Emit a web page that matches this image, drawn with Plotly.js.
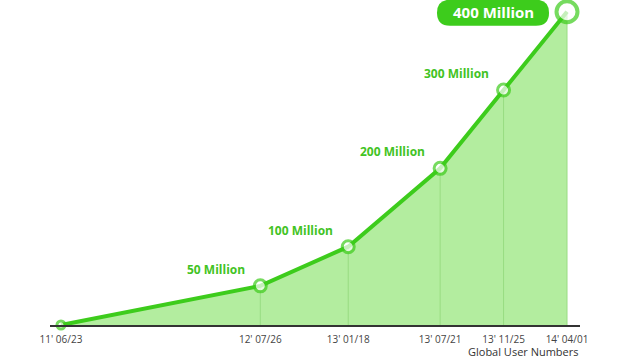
<!DOCTYPE html>
<html><head><meta charset="utf-8">
<script src="https://cdn.plot.ly/plotly-3.0.1.min.js"></script>
<style>html,body{margin:0;padding:0;background:#fff}#chart{width:640px;height:360px}</style>
</head><body><div id="chart"></div>
<script>
const dates = ['2011-06-23','2012-07-26','2013-01-18','2013-07-21','2013-11-25','2014-04-01'];
const tickLabels = ["11' 06/23","12' 07/26","13' 01/18","13' 07/21","13' 11/25","14' 04/01"];
const users = [0, 50, 100, 200, 300, 400]; // millions
const labels = ['', '50 Million', '100 Million', '200 Million', '300 Million', '400 Million'];

const GREEN = '#3dcc1c';
const FILL = '#b3ed9f';
const last = users.length - 1;

const fillTrace = {
  x: dates, y: users, type: 'scatter', mode: 'lines',
  fill: 'tozeroy', fillcolor: FILL, line: {width: 0, color: FILL},
  error_y: {type: 'data', symmetric: false, array: users.map(() => 0), arrayminus: users,
            color: '#98dc82', thickness: 1, width: 0},
  hoverinfo: 'skip'
};
const lineTrace = {
  x: dates, y: users, type: 'scatter', mode: 'lines+markers',
  line: {color: GREEN, width: 4},
  marker: {color: '#ffffff', size: users.map((v, i) => i === last ? 21 : (i === 0 ? 8 : 12)),
           line: {color: GREEN, width: users.map((v, i) => i === last ? 4 : 3)}},
  cliponaxis: false
};

const annotations = [];
for (let i = 1; i < last; i++) {
  annotations.push({x: dates[i], y: users[i], xref: 'x', yref: 'y', text: labels[i],
    showarrow: false, xanchor: 'right', yanchor: 'bottom', xshift: -13, yshift: 6,
    font: {family: 'Open Sans, sans-serif', size: 12, color: '#42c324', weight: 'bold'}});
}
annotations.push({x: dates[last], y: users[last], xref: 'x', yref: 'y', text: labels[last],
  showarrow: false, xanchor: 'center', yanchor: 'middle', xshift: -74, yshift: 0,
  font: {family: 'Open Sans, sans-serif', size: 15, color: '#ffffff', weight: 'bold'}});
annotations.push({x: 1, y: 0, xref: 'paper', yref: 'paper', text: 'Global User Numbers',
  showarrow: false, xanchor: 'right', yanchor: 'top', yshift: -18, borderpad: 0,
  font: {family: 'Open Sans, sans-serif', size: 11, color: '#333333'}});

const layout = {
  width: 640, height: 360,
  margin: {l: 50, r: 60, t: 0, b: 35},
  paper_bgcolor: '#ffffff', plot_bgcolor: '#ffffff',
  showlegend: false,
  xaxis: {type: 'date', range: ['2011-06-01', '2014-04-27'], tickvals: dates, ticktext: tickLabels,
          showgrid: false, zeroline: false, showline: true, linecolor: '#333333', linewidth: 1.5,
          ticks: '', ticklabelstandoff: 4,
          tickfont: {family: 'Open Sans, sans-serif', size: 10, color: '#444444'}},
  yaxis: {range: [0, 415], visible: false, showgrid: false, zeroline: false},
  annotations: annotations,
  shapes: [{type: 'path', xref: 'x', yref: 'y', xsizemode: 'pixel', ysizemode: 'pixel',
    xanchor: dates[last], yanchor: users[last], layer: 'above',
    path: 'M -117,12 L -31,12 Q -18,12 -18,-1 Q -18,-14 -31,-14 L -117,-14 Q -130,-14 -130,-1 Q -130,12 -117,12 Z',
    fillcolor: GREEN, line: {width: 0}}]
};

Plotly.newPlot('chart', [fillTrace, lineTrace], layout, {staticPlot: true, displayModeBar: false});
</script></body></html>
